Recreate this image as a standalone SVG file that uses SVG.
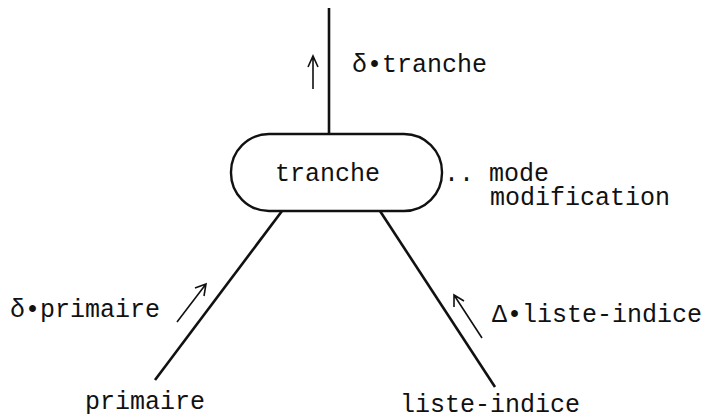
<svg xmlns="http://www.w3.org/2000/svg" width="709" height="420" viewBox="0 0 709 420">
<defs>
<style>
text{font-family:"Liberation Mono","DejaVu Sans Mono",monospace;font-size:25px;fill:#111}
.line{stroke:#111;stroke-width:2.6;fill:none}
.arr{stroke:#111;stroke-width:1.6;fill:none}
.box{stroke:#111;stroke-width:2.4;fill:#fff}
</style>
</defs>
<rect width="709" height="420" fill="#fff"/>
<g id="connectors">
<line class="line" x1="329" y1="8" x2="329" y2="134"/>
<line class="line" x1="282" y1="211" x2="155" y2="380"/>
<line class="line" x1="380" y1="211" x2="495" y2="387"/>
<path class="arr" d="M313 89 V57 M308 67 L313 56 L318 67"/>
<path class="arr" d="M177 322 L206 284 M195 288 L206 284 L204 296"/>
<path class="arr" d="M482 338 L454 295 M454 307 L454 295 L464 301"/>
<text x="352" y="72">δ•tranche</text>
<text x="10" y="317">δ•primaire</text>
<text x="492" y="322">Δ•liste-indice</text>
</g>
<g id="tranche">
<rect class="box" x="231" y="134" width="211" height="77" rx="38" ry="38"/>
<text x="275" y="181">tranche</text>
<text x="444" y="181">.. mode</text>
<text x="490" y="205">modification</text>
</g>
<g id="primaire">
<text x="85" y="409">primaire</text>
</g>
<g id="liste-indice">
<text x="400" y="412">liste-indice</text>
</g>
</svg>
